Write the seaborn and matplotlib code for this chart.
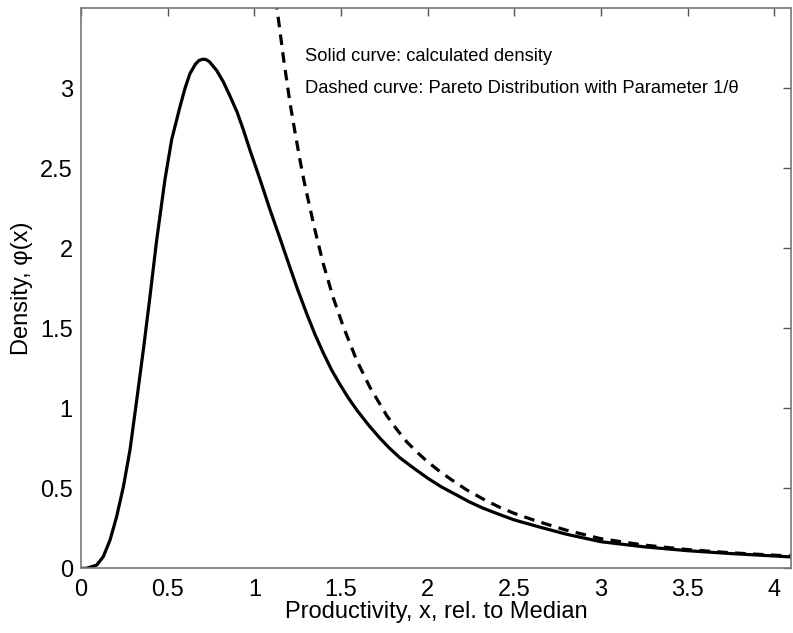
import numpy as np
import pandas as pd
import matplotlib
matplotlib.use('Agg')
import matplotlib.pyplot as plt
from matplotlib.ticker import FuncFormatter
import seaborn as sns

# calculated density (solid)
x_solid = [0.0, 0.03, 0.09, 0.128, 0.167, 0.205, 0.244, 0.282, 0.321, 0.359,
           0.395, 0.436, 0.484, 0.523, 0.571, 0.6, 0.628, 0.66, 0.68, 0.702,
           0.72, 0.74, 0.782, 0.82, 0.859, 0.9, 0.936, 0.975, 1.032, 1.09,
           1.148, 1.205, 1.25, 1.302, 1.35, 1.398, 1.445, 1.494, 1.54, 1.59,
           1.66, 1.725, 1.78, 1.84, 1.92, 2.0, 2.08, 2.167, 2.24, 2.321,
           2.41, 2.5, 2.638, 2.8, 3.0, 3.25, 3.5, 3.75, 4.0, 4.1]
y_solid = [0.0, 0.0, 0.02, 0.073, 0.177, 0.323, 0.51, 0.739, 1.052, 1.364,
           1.677, 2.05, 2.43, 2.68, 2.885, 3.0, 3.09, 3.15, 3.172, 3.18,
           3.178, 3.165, 3.11, 3.04, 2.95, 2.85, 2.74, 2.61, 2.43, 2.24,
           2.06, 1.88, 1.74, 1.59, 1.46, 1.344, 1.24, 1.148, 1.068, 0.99,
           0.893, 0.812, 0.75, 0.69, 0.625, 0.563, 0.508, 0.458, 0.415, 0.375,
           0.338, 0.302, 0.26, 0.213, 0.166, 0.134, 0.11, 0.092, 0.077, 0.071]

# Pareto curve (dashed)
x_dash = [1.10, 1.13, 1.17, 1.205, 1.235, 1.263, 1.29, 1.321, 1.35, 1.398,
          1.455, 1.513, 1.59, 1.667, 1.763, 1.82, 1.879, 1.946, 2.0, 2.07,
          2.138, 2.225, 2.321, 2.41, 2.5, 2.629, 2.8, 3.0, 3.25, 3.5, 3.75,
          4.0, 4.1]
y_dash = [3.80, 3.50, 3.17, 2.91, 2.72, 2.55, 2.40, 2.25, 2.11, 1.90,
          1.69, 1.51, 1.30, 1.13, 0.955, 0.87, 0.79, 0.718, 0.665, 0.605,
          0.553, 0.49, 0.432, 0.384, 0.343, 0.295, 0.238, 0.185, 0.145, 0.117, 0.097,
          0.082, 0.077]

x_ticks = np.arange(0, 4.01, 0.5)
y_ticks = np.arange(0, 3.01, 0.5)

solid = pd.DataFrame({'x': x_solid, 'y': y_solid})
dashed = pd.DataFrame({'x': x_dash, 'y': y_dash})

sns.set_theme(style='white')
plt.rcParams['font.family'] = ['Liberation Sans', 'DejaVu Sans']
plt.rcParams['text.color'] = 'black'
plt.rcParams['axes.labelcolor'] = 'black'

fig = plt.figure(figsize=(7.93, 6.33), dpi=100)
ax = fig.add_axes([0.1023, 0.1022, 0.8948, 0.8852])

sns.lineplot(data=solid, x='x', y='y', ax=ax, color='black', lw=2.3,
             sort=False, estimator=None)
sns.lineplot(data=dashed, x='x', y='y', ax=ax, color='black', lw=2.3,
             sort=False, estimator=None)
ax.lines[-1].set_dashes((3.3, 2.3))

ax.set_xlim(0, 4.095)
ax.set_ylim(0, 3.5)
ax.set_xticks(x_ticks)
ax.set_yticks(y_ticks)
fmt = FuncFormatter(lambda v, p: ('%g' % v))
ax.xaxis.set_major_formatter(fmt)
ax.yaxis.set_major_formatter(fmt)
ax.tick_params(direction='in', length=6, width=1, colors='#555555',
               labelcolor='black', labelsize=17, top=True, right=True)
ax.tick_params(axis='x', pad=8)
ax.tick_params(axis='y', pad=6)
for s in ax.spines.values():
    s.set_color('#777777')
    s.set_linewidth(1.2)

ax.set_xlabel('Productivity, x, rel. to Median', fontsize=17, labelpad=0)
ax.set_ylabel('Density, φ(x)', fontsize=17, labelpad=5)

ax.text(1.292, 3.166, 'Solid curve: calculated density', fontsize=13.2,
        va='baseline', ha='left')
ax.text(1.292, 2.97, 'Dashed curve: Pareto Distribution with Parameter 1/θ',
        fontsize=13.2, va='baseline', ha='left', clip_on=False)

fig.savefig('out.png', dpi=100)
